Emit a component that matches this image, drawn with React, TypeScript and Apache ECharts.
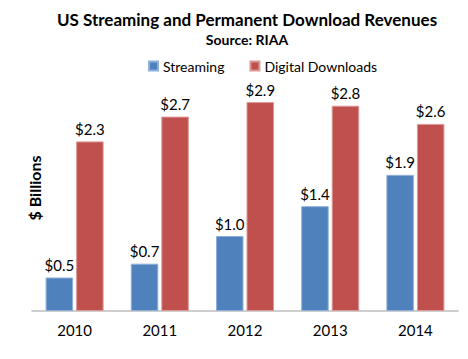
import React, { useEffect, useRef } from "react";
import * as echarts from "echarts";

const years = ["2010", "2011", "2012", "2013", "2014"];
const streaming = [0.46, 0.65, 1.03, 1.44, 1.87];
const downloads = [2.33, 2.67, 2.87, 2.82, 2.57];

const FONT = "Lato";

export default function App() {
  const ref = useRef<HTMLDivElement>(null);
  useEffect(() => {
    const chart = echarts.init(ref.current!, null, { renderer: "svg" });
    const label = {
      show: true,
      position: "top",
      distance: 5,
      fontFamily: FONT,
      fontSize: 15,
      color: "#000",
      formatter: (p: any) => "$" + Number(p.value).toFixed(1),
    };
    chart.setOption({
      animation: false,
      backgroundColor: "#fff",
      title: [
        {
          text: "US Streaming and Permanent Download Revenues",
          left: 242,
          textAlign: "center",
          top: 6,
          textStyle: { fontFamily: FONT, fontSize: 17, fontWeight: "bold", color: "#000" },
        },
        {
          text: "Source: RIAA",
          left: 242,
          textAlign: "center",
          top: 27,
          textStyle: { fontFamily: FONT, fontSize: 14, fontWeight: "bold", color: "#000" },
        },
      ],
      legend: {
        left: 143,
        top: 54,
        icon: "rect",
        itemWidth: 9,
        itemHeight: 9,
        itemGap: 25,
        textStyle: { fontFamily: FONT, fontSize: 14, color: "#000" },
        data: ["Streaming", "Digital Downloads"],
      },
      grid: { left: 32, right: 10, top: 92.6, bottom: 48 },
      xAxis: {
        type: "category",
        data: years,
        axisLine: { lineStyle: { color: "#BFBFBF", width: 1.5 } },
        axisTick: { show: false },
        axisLabel: { fontFamily: FONT, fontSize: 15, color: "#000", margin: 11 },
      },
      yAxis: {
        type: "value",
        min: 0,
        max: 3,
        show: false,
        splitLine: { show: false },
      },
      graphic: [
        {
          type: "text",
          x: 34,
          y: 188,
          rotation: Math.PI / 2,
          style: {
            text: "$ Billions",
            fontFamily: FONT,
            fontSize: 16,
            fontWeight: "bold",
            fill: "#000",
            align: "center",
            verticalAlign: "middle",
          },
        },
      ],
      series: [
        {
          name: "Streaming",
          type: "bar",
          data: streaming,
          barWidth: 27.5,
          barGap: "11%",
          itemStyle: { color: "#4F81BD", borderColor: "#8FB0D8", borderWidth: 1 },
          label,
        },
        {
          name: "Digital Downloads",
          type: "bar",
          data: downloads,
          barWidth: 27.5,
          barGap: "11%",
          itemStyle: { color: "#C0504D", borderColor: "#DC9896", borderWidth: 1 },
          label,
        },
      ],
    });
    return () => chart.dispose();
  }, []);
  return <div ref={ref} style={{ width: 468, height: 359, margin: -8 }} />;
}
